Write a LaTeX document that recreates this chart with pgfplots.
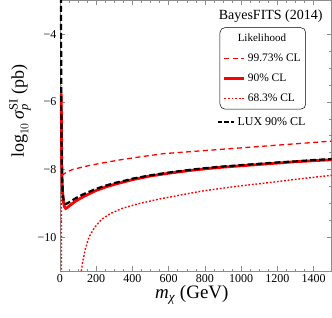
\documentclass[border=0pt]{standalone}
\usepackage{fontspec}
\setmainfont{Liberation Serif}
\usepackage{amsmath}
\usepackage{pgfplots}
\pgfplotsset{compat=1.18}
\definecolor{framegray}{gray}{0.55}
\begin{document}
\begin{tikzpicture}
\begin{axis}[name=ax, scale only axis, width=272pt, height=271pt,
  xmin=0, xmax=1500, ymin=-11, ymax=-3,
  xtick={0,200,...,1400}, minor x tick num=3,
  ytick={-10,-8,-6,-4}, yticklabels={−10,−8,−6,−4}, minor y tick num=3,
  tick align=inside, major tick length=5pt, minor tick length=2.5pt,
  axis line style={framegray, line width=0.6pt},
  every tick/.style={framegray, line width=0.5pt},
  /pgf/number format/assume math mode=true, /pgf/number format/1000 sep={},
  ticklabel style={font=\fontsize{12}{14}\selectfont},
  xlabel={\textit{m}$_{\text{\itshape χ}}$ (GeV)},
  xlabel style={font=\fontsize{19}{22}\selectfont, yshift=4pt, xshift=-4pt},
  ylabel={$\text{log}_{10}\,\text{\itshape σ}_{\text{\itshape p}}^{\text{SI}}$ (pb)},
  ylabel style={font=\fontsize{18}{21}\selectfont, at={(ticklabel cs:0.59)}},
  legend style={at={(0.588,0.90)}, anchor=north west, draw=black, line width=0.5pt,
    rounded corners=5pt, font=\fontsize{11.5}{13}\selectfont, row sep=7pt,
    inner xsep=3pt, inner ysep=4pt},
  legend cell align=left,
  legend image code/.code={\draw[#1] (0pt,0pt) -- (20pt,0pt);},
]
% 68.3% CL (dotted)
\addplot[red, line width=1.4pt, dash pattern=on 1.8pt off 1.8pt, forget plot] coordinates {
(7.5,-5.7)(8,-8)(8.5,-11.2)};
\addplot[red, line width=1.4pt, dash pattern=on 1.8pt off 1.8pt, forget plot] coordinates {
(118,-11)(125,-10.75)(140,-10.35)(160,-10.0)(190,-9.72)(230,-9.47)(280,-9.3)(337,-9.16)
(400,-9.06)(450,-8.99)(550,-8.87)(650,-8.77)(780,-8.64)(900,-8.55)(1000,-8.48)
(1150,-8.39)(1300,-8.29)(1500,-8.17)};
% 99.73% CL (dashed)
\addplot[red, line width=1.3pt, dash pattern=on 5pt off 3.5pt, forget plot] coordinates {
(6.8,-5.6)(7.5,-6.6)(8.5,-7.4)(10,-7.9)(13,-8.12)(18,-8.15)(25,-8.12)(40,-8.07)(70,-8.0)
(100,-7.96)(155,-7.89)(220,-7.82)(337,-7.71)(450,-7.62)(574,-7.53)(700,-7.48)(850,-7.42)
(1000,-7.36)(1200,-7.28)(1350,-7.22)(1500,-7.16)};
% 90% CL (solid)
\addplot[red, line width=2.8pt, forget plot] coordinates {
(7.2,-5.75)(8,-6.5)(9,-7.25)(10,-7.75)(12,-8.3)(15,-8.72)(20,-8.98)(25,-9.1)(32,-9.15)
(40,-9.13)(50,-9.08)(65,-9.02)(80,-8.96)(100,-8.89)(130,-8.80)(160,-8.72)(200,-8.62)
(250,-8.52)(300,-8.44)(350,-8.37)(400,-8.30)(500,-8.19)(600,-8.11)(700,-8.04)(800,-7.98)
(900,-7.93)(1000,-7.89)(1100,-7.85)(1200,-7.81)(1300,-7.77)(1400,-7.74)(1500,-7.71)};
% LUX 90% CL
\addplot[black, line width=2.2pt, dash pattern=on 6pt off 3pt, forget plot] coordinates {
(6,-2.9)(6.5,-4.2)(7,-5.2)(8,-6.4)(9,-7.2)(10,-7.7)(12,-8.25)(15,-8.65)(20,-8.9)(25,-8.99)
(32,-9.02)(40,-9.0)(50,-8.97)(65,-8.92)(80,-8.87)(100,-8.81)(130,-8.73)(160,-8.66)
(200,-8.57)(250,-8.48)(300,-8.40)(350,-8.34)(400,-8.27)(500,-8.17)(600,-8.09)(700,-8.02)
(800,-7.96)(900,-7.91)(1000,-7.87)(1100,-7.83)(1200,-7.79)(1300,-7.76)(1400,-7.72)(1500,-7.69)};
\addlegendimage{empty legend}
\addlegendentry{\hspace{-10pt}\fontsize{11}{13}\selectfont Likelihood}
\addlegendimage{color=red, draw=red, line width=1.3pt, dash pattern=on 5pt off 3.5pt}
\addlegendentry{99.73\% CL}
\addlegendimage{color=red, draw=red, line width=2.8pt}
\addlegendentry{90\% CL}
\addlegendimage{color=red, draw=red, line width=1.4pt, dash pattern=on 1.8pt off 1.8pt}
\addlegendentry{68.3\% CL}
\node[anchor=north east, font=\fontsize{14}{16}\selectfont, inner sep=0pt]
  at (rel axis cs:0.967,0.967) {BayesFITS (2014)};
\end{axis}
\begin{axis}[scale only axis, width=272pt, height=271pt, hide axis,
  xmin=0, xmax=1500, ymin=-11, ymax=-3,
  legend style={at={(0.575,0.575)}, anchor=north west, draw=none, fill=none,
    font=\fontsize{12}{14}\selectfont, inner xsep=0pt, inner ysep=0pt},
  legend image code/.code={\draw[#1] (0pt,0pt) -- (17pt,0pt);},
]
\addlegendimage{black, line width=2.2pt, dash pattern=on 5pt off 2pt}
\addlegendentry{LUX 90\% CL}
\end{axis}
\pgfresetboundingbox
\path (ax.south west) ++(-60pt,-46pt) rectangle ([xshift=0.3pt,yshift=0.3pt]ax.north east);
\end{tikzpicture}
\end{document}
